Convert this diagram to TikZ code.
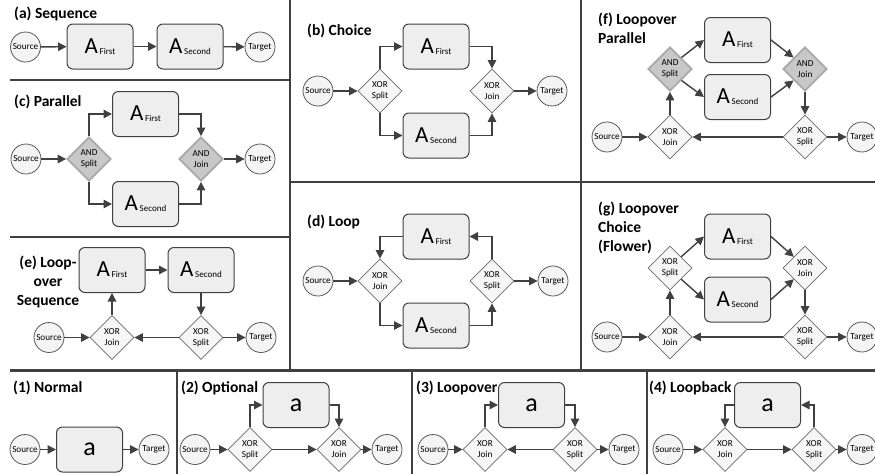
\documentclass[tikz,border=0pt]{standalone}
\usepackage{fontspec}
\setmainfont{Carlito}
\usetikzlibrary{shapes.geometric,arrows.meta}
\definecolor{linec}{HTML}{404040}
\definecolor{boxfill}{HTML}{EEEEEE}
\definecolor{circfill}{HTML}{F4F4F4}
\definecolor{circline}{HTML}{595959}
\definecolor{xorfill}{HTML}{F6F6F6}
\definecolor{xorline}{HTML}{6B6B6B}
\definecolor{andfill}{HTML}{C8C8C8}
\definecolor{andline}{HTML}{A8A8A8}
\newcommand{\actA}[1]{{\fontsize{23}{23}\selectfont A}\,\raisebox{-1pt}{\fontsize{9}{9}\selectfont #1}}
\newcommand{\acta}{{\fontsize{26}{26}\selectfont a}}
\tikzset{
  src/.style={circle,draw=circline,fill=circfill,line width=0.8pt,minimum size=30pt,inner sep=0pt,font=\fontsize{9.2}{10}\selectfont},
  actbox/.style={rectangle,rounded corners=6pt,draw=linec,fill=boxfill,line width=1pt,minimum width=66pt,minimum height=45pt,inner sep=0pt},
  xorgate/.style={diamond,draw=xorline,fill=xorfill,line width=0.8pt,minimum width=44pt,minimum height=44pt,inner sep=0pt,align=center,font=\fontsize{9.2}{11}\selectfont},
  andgate/.style={xorgate,draw=andline,fill=andfill,line width=1.8pt},
  flow/.style={draw=linec,line width=1.4pt,-{Triangle[length=8.5pt,width=8.5pt]}},
  ptitle/.style={inner sep=0pt,font=\fontsize{15.5}{19}\selectfont\bfseries},
  sep/.style={draw=linec,line width=1.3pt}
}

\begin{document}
\begin{tikzpicture}[x=1pt,y=-1pt]
\useasboundingbox (0,0) rectangle (875,474);
% frame
\draw[sep] (290,0) -- (290,370);
\draw[sep] (581,0) -- (581,370);
\draw[sep] (10,80) -- (290,80);
\draw[sep] (10,237) -- (290,237);
\draw[sep] (290,182) -- (875,182);
\draw[sep,line width=3pt] (10,370) -- (875,370);
\draw[sep] (177,370) -- (177,474);
\draw[sep] (412,370) -- (412,474);
\draw[sep] (647,370) -- (647,474);

% (a)
\node[ptitle,anchor=base west] (a-title) at (14,18) {(a) Sequence};
\node[src] (a-src) at (25.5,47) {Source};
\node[actbox] (a-first) at (100,46.5) {\actA{First}};
\node[actbox] (a-second) at (190,46.5) {\actA{Second}};
\node[src] (a-tgt) at (260,47) {Target};
\draw[flow] (a-src) -- (a-first);
\draw[flow] (a-first) -- (a-second);
\draw[flow] (a-second) -- (a-tgt);

% (c)
\node[ptitle,anchor=base west] (c-title) at (14,106) {(c) Parallel};
\node[src] (c-src) at (26,159) {Source};
\node[andgate] (c-split) at (89,159) {AND\\Split};
\node[actbox] (c-first) at (145.5,114) {\actA{First}};
\node[actbox] (c-second) at (145.5,204) {\actA{Second}};
\node[andgate] (c-join) at (201,159) {AND\\Join};
\node[src] (c-tgt) at (260,159) {Target};
\draw[flow] (c-src) -- (c-split);
\draw[flow] (c-split.north) |- (c-first.west);
\draw[flow] (c-split.south) |- (c-second.west);
\draw[flow] (c-first.east) -| (c-join.north);
\draw[flow] (c-second.east) -| (c-join.south);
\draw[flow] (c-join) -- (c-tgt);

% (e)
\node[ptitle,anchor=north,align=center] (e-title) at (48,255.5) {(e) Loop-\\over\\Sequence};
\node[actbox] (e-first) at (112,270) {\actA{First}};
\node[actbox] (e-second) at (201,270) {\actA{Second}};
\node[src] (e-src) at (49,337.5) {Source};
\node[xorgate] (e-join) at (112,337.5) {XOR\\Join};
\node[xorgate] (e-split) at (201,337.5) {XOR\\Split};
\node[src] (e-tgt) at (261,337.5) {Target};
\draw[flow] (e-src) -- (e-join);
\draw[flow] (e-join.north) -- (e-first.south);
\draw[flow] (e-first) -- (e-second);
\draw[flow] (e-second.south) -- (e-split.north);
\draw[flow] (e-split.west) -- (e-join.east);
\draw[flow] (e-split) -- (e-tgt);

% (b)
\node[ptitle,anchor=base west] (b-title) at (307,35) {(b) Choice};
\node[src] (b-src) at (318,91) {Source};
\node[xorgate] (b-split) at (380,91) {XOR\\Split};
\node[actbox] (b-first) at (436,46.5) {\actA{First}};
\node[actbox] (b-second) at (436,135.5) {\actA{Second}};
\node[xorgate] (b-join) at (492,91) {XOR\\Join};
\node[src] (b-tgt) at (552,91) {Target};
\draw[flow] (b-src) -- (b-split);
\draw[flow] (b-split.north) |- (b-first.west);
\draw[flow] (b-split.south) |- (b-second.west);
\draw[flow] (b-first.east) -| (b-join.north);
\draw[flow] (b-second.east) -| (b-join.south);
\draw[flow] (b-join) -- (b-tgt);

% (d)
\node[ptitle,anchor=base west] (d-title) at (307,226) {(d) Loop};
\node[src] (d-src) at (318,281) {Source};
\node[xorgate] (d-join) at (380,281) {XOR\\Join};
\node[actbox] (d-first) at (436,236.5) {\actA{First}};
\node[actbox] (d-second) at (436,325.5) {\actA{Second}};
\node[xorgate] (d-split) at (492,281) {XOR\\Split};
\node[src] (d-tgt) at (553,281) {Target};
\draw[flow] (d-src) -- (d-join);
\draw[flow] (d-first.west) -| (d-join.north);
\draw[flow] (d-join.south) |- (d-second.west);
\draw[flow] (d-second.east) -| (d-split.south);
\draw[flow] (d-split.north) |- (d-first.east);
\draw[flow] (d-split) -- (d-tgt);

% (f)
\node[ptitle,anchor=north west,align=left] (f-title) at (598,12.5) {(f) Loopover\\Parallel};
\node[src] (f-src) at (607,137) {Source};
\node[xorgate] (f-xj) at (670,137) {XOR\\Join};
\node[andgate] (f-as) at (670,69) {AND\\Split};
\node[actbox] (f-first) at (737.5,40) {\actA{First}};
\node[actbox] (f-second) at (737.5,97) {\actA{Second}};
\node[andgate] (f-aj) at (805,69) {AND\\Join};
\node[xorgate] (f-xs) at (805,137) {XOR\\Split};
\node[src] (f-tgt) at (862,137) {Target};
\draw[flow] (f-src) -- (f-xj);
\draw[flow] (f-xj.north) -- (f-as.south);
\draw[flow] (f-as.north east) -- (f-first.west);
\draw[flow] (f-as.south east) -- (f-second.west);
\draw[flow] (f-first.east) -- (f-aj.north west);
\draw[flow] (f-second.east) -- (f-aj.south west);
\draw[flow] (f-aj.south) -- (f-xs.north);
\draw[flow] (f-xs.west) -- (f-xj.east);
\draw[flow] (f-xs) -- (f-tgt);

% (g)
\node[ptitle,anchor=north west,align=left] (g-title) at (598,201.5) {(g) Loopover\\Choice\\(Flower)};
\node[src] (g-src) at (607,337) {Source};
\node[xorgate] (g-xj) at (670,337) {XOR\\Join};
\node[xorgate] (g-us) at (670,268) {XOR\\Split};
\node[actbox] (g-first) at (737.5,236.5) {\actA{First}};
\node[actbox] (g-second) at (737.5,299.5) {\actA{Second}};
\node[xorgate] (g-uj) at (805,268) {XOR\\Join};
\node[xorgate] (g-xs) at (805,337) {XOR\\Split};
\node[src] (g-tgt) at (862,337) {Target};
\draw[flow] (g-src) -- (g-xj);
\draw[flow] (g-xj.north) -- (g-us.south);
\draw[flow] (g-us.north east) -- (g-first.west);
\draw[flow] (g-us.south east) -- (g-second.west);
\draw[flow] (g-first.east) -- (g-uj.north west);
\draw[flow] (g-second.east) -- (g-uj.south west);
\draw[flow] (g-uj.south) -- (g-xs.north);
\draw[flow] (g-xs.west) -- (g-xj.east);
\draw[flow] (g-xs) -- (g-tgt);

% (1)
\node[ptitle,anchor=base west] (n-title) at (13,392) {(1) Normal};
\node[src] (n-src) at (25,449.5) {Source};
\node[actbox] (n-a) at (89.5,449.5) {\acta};
\node[src] (n-tgt) at (154,449.5) {Target};
\draw[flow] (n-src) -- (n-a);
\draw[flow] (n-a) -- (n-tgt);

% (2)
\node[ptitle,anchor=base west] (o-title) at (181,392) {(2) Optional};
\node[src] (o-src) at (195,449.5) {Source};
\node[xorgate] (o-split) at (250,449.5) {XOR\\Split};
\node[actbox] (o-a) at (296,405) {\acta};
\node[xorgate] (o-join) at (339,449.5) {XOR\\Join};
\node[src] (o-tgt) at (387,449.5) {Target};
\draw[flow] (o-src) -- (o-split);
\draw[flow] (o-split.north) |- (o-a.west);
\draw[flow] (o-a.east) -| (o-join.north);
\draw[flow] (o-split.east) -- (o-join.west);
\draw[flow] (o-join) -- (o-tgt);

% (3)
\node[ptitle,anchor=base west] (lo-title) at (416,392) {(3) Loopover};
\node[src] (lo-src) at (433,449.5) {Source};
\node[xorgate] (lo-join) at (485,449.5) {XOR\\Join};
\node[actbox] (lo-a) at (531.5,405) {\acta};
\node[xorgate] (lo-split) at (575,449.5) {XOR\\Split};
\node[src] (lo-tgt) at (624,449.5) {Target};
\draw[flow] (lo-src) -- (lo-join);
\draw[flow] (lo-join.north) |- (lo-a.west);
\draw[flow] (lo-a.east) -| (lo-split.north);
\draw[flow] (lo-split.west) -- (lo-join.east);
\draw[flow] (lo-split) -- (lo-tgt);

% (4)
\node[ptitle,anchor=base west] (lb-title) at (649,392) {(4) Loopback};
\node[src] (lb-src) at (668,449.5) {Source};
\node[xorgate] (lb-join) at (725,449.5) {XOR\\Join};
\node[actbox] (lb-a) at (767.5,405) {\acta};
\node[xorgate] (lb-split) at (814,449.5) {XOR\\Split};
\node[src] (lb-tgt) at (862,449.5) {Target};
\draw[flow] (lb-src) -- (lb-join);
\draw[flow] (lb-a.west) -| (lb-join.north);
\draw[flow] (lb-join.east) -- (lb-split.west);
\draw[flow] (lb-split.north) |- (lb-a.east);
\draw[flow] (lb-split) -- (lb-tgt);
\end{tikzpicture}
\end{document}
